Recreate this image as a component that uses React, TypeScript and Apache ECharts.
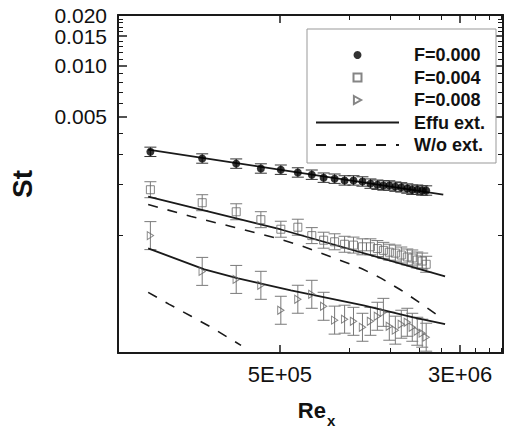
import React, { useEffect, useRef } from 'react';
import * as echarts from 'echarts';

// Stations (Re_x) shared by the three blowing ratios
const reX = [138000, 231000, 324000, 414000, 505000, 598000, 687000, 773000, 862000, 952000, 1040000, 1137000, 1231000, 1319000, 1400000, 1485000, 1577000, 1673000, 1776000, 1866000, 1961000, 2060000, 2143000];
const stF000 = [0.00310, 0.00283, 0.00264, 0.00247, 0.00243, 0.00234, 0.00227, 0.00218, 0.00215, 0.00210, 0.00210, 0.00207, 0.00201, 0.00198, 0.00196, 0.00196, 0.00193, 0.00191, 0.00188, 0.00185, 0.00185, 0.00183, 0.00183];
const stF004 = [0.00185, 0.00155, 0.00137, 0.00123, 0.00108, 0.00111, 0.00099, 0.00093, 0.00091, 0.00088, 0.00087, 0.00085, 0.00085, 0.00083, 0.00081, 0.00079, 0.00078, 0.00076, 0.00074, 0.00073, 0.00071, 0.00070, 0.00067];
const stF008 = [0.00099, 0.000608, 0.000545, 0.000503, 0.000358, 0.000416, 0.000445, 0.000378, 0.000313, 0.000317, 0.000308, 0.000284, 0.000308, 0.000330, 0.000348, 0.000288, 0.000273, 0.000296, 0.000304, 0.000284, 0.000269, 0.000262, 0.000248];
// multiplicative half-width of the error bars
const errF000 = 1.066;
const errF004 = 1.115;
const errF008 = 1.21;

// Effusion-extended model curves
const effuX000 = [135000, 2540000];
const effuY000 = [0.00319, 0.00173];
const effuX004 = [135000, 505000, 2586000];
const effuY004 = [0.001686, 0.001076, 0.000568];
const effuX008 = [135000, 236000, 330000, 558000, 1148000, 1884000, 2586000];
const effuY008 = [0.000831, 0.000625, 0.000553, 0.000470, 0.000383, 0.000325, 0.000296];
// Without extension
const woX004 = [135000, 207200, 307800, 471200, 615500, 914800, 1126000, 1372000, 1673000, 2060000, 2536000];
const woY004 = [0.001512, 0.001284, 0.001121, 0.000966, 0.000866, 0.000706, 0.000633, 0.000553, 0.000470, 0.000388, 0.000317];
const woX008 = [135000, 166600, 207200, 252600, 339900];
const woY008 = [0.000457, 0.000388, 0.000330, 0.000284, 0.000222];

// Axis ticks
const xMajor = [500000, 3000000];
const xMinor = [1000000, 1500000, 2000000, 2500000, 3500000, 4000000, 4500000];
const yMajor = [0.005, 0.010, 0.015, 0.020];
const yMinor = [0.001, 0.002, 0.003, 0.004, 0.006, 0.007, 0.008, 0.009, 0.011, 0.012, 0.013, 0.014, 0.016, 0.017, 0.018, 0.019];

const FONT = "'Liberation Sans', Arial, Helvetica, sans-serif";
const INK = '#1a1a1a';
const GRAY = '#7a7a7a';
const CLEAR = 'rgba(0,0,0,0)';

const pairs = (xs: number[], ys: number[]) => xs.map((x, i) => [x, ys[i]]);
// keep edge ticks inside the axis extent despite floating-point rounding
const inside = (vals: number[]) => vals.map((v) => v * (1 - 1e-7));

function fmtX(v: number) {
  const e = Math.floor(Math.log10(v) + 1e-6);
  const m = Math.round(v / Math.pow(10, e));
  return `${m}E+${String(e).padStart(2, '0')}`;
}

function errorBars(name: string, vals: number[], k: number, color: string) {
  return {
    type: 'custom',
    name,
    xAxisIndex: 0,
    yAxisIndex: 0,
    silent: true,
    clip: true,
    z: 2,
    data: reX.map((x, i) => [x, vals[i] / k, vals[i] * k]),
    encode: { x: 0, y: [1, 2] },
    renderItem: (_p: any, api: any) => {
      const x = api.value(0);
      const lo = api.coord([x, api.value(1)]);
      const hi = api.coord([x, api.value(2)]);
      const w = 6;
      const style = { stroke: color, lineWidth: 1, fill: 'none' };
      return {
        type: 'group',
        children: [
          { type: 'line', shape: { x1: lo[0], y1: lo[1], x2: hi[0], y2: hi[1] }, style },
          { type: 'line', shape: { x1: lo[0] - w, y1: lo[1], x2: lo[0] + w, y2: lo[1] }, style },
          { type: 'line', shape: { x1: hi[0] - w, y1: hi[1], x2: hi[0] + w, y2: hi[1] }, style },
        ],
      };
    },
  };
}

export default function App() {
  const ref = useRef<HTMLDivElement>(null);
  useEffect(() => {
    document.body.style.margin = '0';
    if (!ref.current) return;
    const chart = echarts.init(ref.current, undefined, { renderer: 'svg' });
    const frame = { show: true, onZero: false, lineStyle: { color: INK, width: 2 } };
    const majorTick = (vals: number[], len: number) => ({ show: true, inside: true, length: len, customValues: inside(vals), lineStyle: { color: INK, width: 1.5 } });
    const minorTick = (vals: number[]) => ({ show: true, inside: true, length: 5, customValues: vals, lineStyle: { color: INK, width: 1 } });
    const yLabel = (vals: number[]) => ({
      show: true, customValues: inside(vals), formatter: (v: number) => v.toFixed(3),
      fontSize: 21, lineHeight: 18, color: '#111', margin: 11, fontFamily: FONT,
      showMaxLabel: true, showMinLabel: true, hideOverlap: false,
    });
    const xBase = {
      type: 'log', min: 100000, max: 4600000, logBase: 10,
      splitLine: { show: false }, minorTick: { show: false }, minorSplitLine: { show: false },
      axisLabel: { show: false }, axisLine: { show: false },
    };
    const yBase = {
      type: 'log', min: 0.0002, max: 0.02, logBase: 10,
      splitLine: { show: false }, minorTick: { show: false }, minorSplitLine: { show: false },
      axisLabel: { show: false }, axisLine: { show: false },
    };
    const lineCommon = { type: 'line', xAxisIndex: 0, yAxisIndex: 0, symbol: 'none', showSymbol: false, z: 4, silent: true, itemStyle: { color: CLEAR, borderColor: CLEAR } };
    const solid = { color: INK, width: 1.8, type: 'solid' };
    const dashed = { color: INK, width: 1.6, type: [10, 10] };

    chart.setOption({
      animation: false,
      backgroundColor: '#fff',
      textStyle: { fontFamily: FONT },
      grid: { left: 118, right: 8, top: 15, bottom: 77, containLabel: false, outerBoundsMode: 'none' },
      legend: {
        orient: 'vertical',
        left: 307,
        top: 29,
        padding: [17, 11, 9, 8],
        itemGap: 4.5,
        itemWidth: 83,
        itemHeight: 8,
        borderColor: '#999',
        borderWidth: 1,
        backgroundColor: '#fff',
        symbolKeepAspect: true,
        textStyle: { fontFamily: FONT, fontSize: 18, fontWeight: 'bold', color: '#111', padding: [0, 0, 0, 10] },
        data: ['F=0.000', 'F=0.004', 'F=0.008', 'Effu ext.', 'W/o ext.'],
      },
      xAxis: [
        {
          ...xBase, position: 'bottom', axisLine: frame,
          axisTick: majorTick(xMajor, 8),
          axisLabel: { show: true, customValues: inside(xMajor), formatter: (v: number) => fmtX(v), fontSize: 22, color: '#111', margin: 10, fontFamily: FONT, hideOverlap: false, showMaxLabel: true, showMinLabel: true },
          name: '{a|Re}{b|x}', nameLocation: 'middle', nameGap: 40,
          nameTextStyle: {
            rich: {
              a: { fontSize: 22, fontWeight: 'bold', fontFamily: FONT, color: '#111', padding: [0, 0, 0, 12] },
              b: { fontSize: 15, fontWeight: 'bold', fontFamily: FONT, color: '#111', padding: [20, 0, 0, 1] },
            },
          },
        },
        { ...xBase, position: 'bottom', axisTick: minorTick(xMinor) },
        { ...xBase, position: 'top', axisLine: frame, axisTick: majorTick(xMajor, 8) },
        { ...xBase, position: 'top', axisTick: minorTick(xMinor) },
      ],
      yAxis: [
        {
          ...yBase, position: 'left', axisLine: frame,
          axisTick: majorTick(yMajor, 9),
          axisLabel: yLabel([yMajor[0], yMajor[2]]),
          name: 'St', nameLocation: 'middle', nameGap: 82,
          nameTextStyle: { fontSize: 28, fontWeight: 'bold', color: '#111', fontFamily: FONT },
        },
        { ...yBase, position: 'left', axisTick: minorTick(yMinor), axisLabel: yLabel([yMajor[1], yMajor[3]]) },
        { ...yBase, position: 'right', axisLine: frame, axisTick: majorTick(yMajor, 9) },
        { ...yBase, position: 'right', axisTick: minorTick(yMinor) },
      ],
      series: [
        errorBars('err000', stF000, errF000, '#333'),
        errorBars('err004', stF004, errF004, GRAY),
        errorBars('err008', stF008, errF008, GRAY),
        { ...lineCommon, name: 'Effu ext.', data: pairs(effuX000, effuY000), lineStyle: solid },
        { ...lineCommon, name: 'Effu ext.', data: pairs(effuX004, effuY004), lineStyle: solid },
        { ...lineCommon, name: 'Effu ext.', data: pairs(effuX008, effuY008), lineStyle: solid },
        { ...lineCommon, name: 'W/o ext.', data: pairs(woX004, woY004), lineStyle: dashed },
        { ...lineCommon, name: 'W/o ext.', data: pairs(woX008, woY008), lineStyle: dashed },
        {
          type: 'scatter', name: 'F=0.000', xAxisIndex: 0, yAxisIndex: 0, z: 5, silent: true,
          symbol: 'circle', symbolSize: 8,
          itemStyle: { color: '#000' },
          data: pairs(reX, stF000),
        },
        {
          type: 'scatter', name: 'F=0.004', xAxisIndex: 0, yAxisIndex: 0, z: 5, silent: true,
          symbol: 'path://M0,0H10V10H0Z', symbolSize: 8, symbolKeepAspect: true,
          itemStyle: { color: CLEAR, borderColor: '#666', borderWidth: 1 },
          data: pairs(reX, stF004),
        },
        {
          type: 'scatter', name: 'F=0.008', xAxisIndex: 0, yAxisIndex: 0, z: 5, silent: true,
          symbol: 'path://M0,0L9,5L0,10Z', symbolSize: [7, 8], symbolKeepAspect: true,
          itemStyle: { color: CLEAR, borderColor: '#666', borderWidth: 1 },
          data: pairs(reX, stF008),
        },
      ],
    });
    return () => chart.dispose();
  }, []);
  return <div ref={ref} style={{ width: 511, height: 430 }} />;
}
